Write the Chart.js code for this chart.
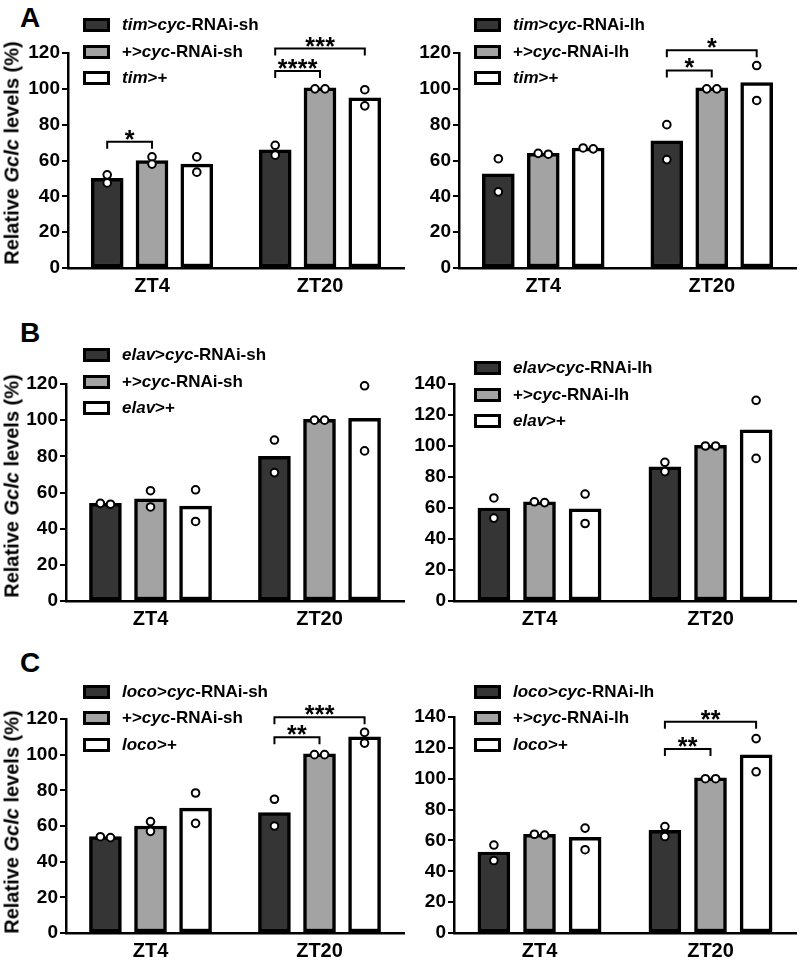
<!DOCTYPE html>
<html lang="en">
<head>
<meta charset="UTF-8">
<title>Relative Gclc levels</title>
<script src="https://cdn.jsdelivr.net/npm/chart.js"></script>
<style>
  body { margin: 0; background: #fff; }
  #fig { position: relative; width: 800px; height: 964px; overflow: hidden; font-family: "Liberation Sans", Arial, sans-serif; color: #000; }
  #fig canvas { position: absolute; }
  .letra { position: absolute; left: 20px; font-size: 28px; font-weight: bold; line-height: 28px; }
  .ytitle { position: absolute; left: 12px; font-size: 20px; font-weight: bold; white-space: nowrap; transform: translate(-50%, -50%) rotate(-90deg); }
  .legenda { position: absolute; font-size: 17px; font-weight: bold; }
  .legenda .row { display: flex; align-items: center; height: 26.5px; white-space: nowrap; }
  .legenda .sw { width: 27px; height: 14px; border: 3px solid #000; box-sizing: border-box; margin-right: 12px; }
</style>
</head>
<body>
<div id="fig">
  <div class="letra" style="top:4px">A</div>
  <div class="letra" style="top:319px">B</div>
  <div class="letra" style="top:649px">C</div>
</div>

<script>
    const grupos = ['ZT4', 'ZT20'];

    // A - tim driver
    const timShSeries = ['tim>cyc-RNAi-sh', '+>cyc-RNAi-sh', 'tim>+'];
    const timShMedias = [[50, 66], [60, 100.5], [58, 95]];
    const timShPontos = [[[52, 47.5], [68.5, 63]], [[62, 58], [100, 100]], [[62, 53.5], [99.5, 90.5]]];
    const timShSig = [[0, 0, 1, 70.5, '*'], [1, 0, 1, 110, '****'], [1, 0, 2, 122.5, '***']];

    const timLhSeries = ['tim>cyc-RNAi-lh', '+>cyc-RNAi-lh', 'tim>+'];
    const timLhMedias = [[52.5, 71], [64, 100.5], [67, 103.5]];
    const timLhPontos = [[[61, 42.5], [80, 60.5]], [[64, 63.5], [100, 100]], [[67, 66.5], [113, 93.5]]];
    const timLhSig = [[1, 0, 1, 110.3, '*'], [1, 0, 2, 121.5, '*']];

    // B - elav driver
    const elavShSeries = ['elav>cyc-RNAi-sh', '+>cyc-RNAi-sh', 'elav>+'];
    const elavShMedias = [[54, 80], [56.5, 100.5], [52.5, 101]];
    const elavShPontos = [[[54, 53.5], [89, 71]], [[61, 52], [100, 100]], [[61.5, 44], [119, 83]]];

    const elavLhSeries = ['elav>cyc-RNAi-lh', '+>cyc-RNAi-lh', 'elav>+'];
    const elavLhMedias = [[60, 86.5], [64, 100.5], [59.5, 110.5]];
    const elavLhPontos = [[[66.5, 53.5], [89.5, 83.5]], [[64, 63.5], [100, 100]], [[69, 50], [129.5, 92]]];

    // C - loco driver
    const locoShSeries = ['loco>cyc-RNAi-sh', '+>cyc-RNAi-sh', 'loco>+'];
    const locoShMedias = [[54, 67.5], [60, 100.5], [70, 110]];
    const locoShPontos = [[[54, 53.5], [75, 60]], [[62.5, 57], [100, 100]], [[78.5, 61.5], [112.5, 106.5]]];
    const locoShSig = [[1, 0, 1, 109.7, '**'], [1, 0, 2, 121, '***']];

    const locoLhSeries = ['loco>cyc-RNAi-lh', '+>cyc-RNAi-lh', 'loco>+'];
    const locoLhMedias = [[52.5, 66.5], [64, 100.5], [62, 115.5]];
    const locoLhPontos = [[[57, 47], [69, 62.5]], [[64, 63.5], [100, 100]], [[68, 54], [126, 104.5]]];
    const locoLhSig = [[1, 0, 1, 119.3, '**'], [1, 0, 2, 137, '**']];

    const cores = ['#353535', '#a3a3a3', '#ffffff'];
    const fonte = '"Liberation Sans", Arial, sans-serif';
    const passo = 0.8 / 3;   // distancia entre barras do mesmo grupo (unidades do eixo)

    const paineis = [
        { left: 0, top: 0, w: 410, h: 300, eixoY: 68, topo: 53, eixoX: 32, dir: 2, max: 120, series: timShSeries, medias: timShMedias, pontos: timShPontos, sig: timShSig, leg: [83, 11.75], titulo: 153 },
        { left: 400, top: 0, w: 402, h: 300, eixoY: 59, topo: 53, eixoX: 32, dir: 1, max: 120, series: timLhSeries, medias: timLhMedias, pontos: timLhPontos, sig: timLhSig, leg: [474, 11.75] },
        { left: 0, top: 300, w: 410, h: 332, eixoY: 66, topo: 84, eixoX: 31, dir: 2, max: 120, series: elavShSeries, medias: elavShMedias, pontos: elavShPontos, sig: [], leg: [83, 341.75], titulo: 486 },
        { left: 400, top: 300, w: 402, h: 332, eixoY: 54, topo: 84, eixoX: 31, dir: 1, max: 140, series: elavLhSeries, medias: elavLhMedias, pontos: elavLhPontos, sig: [], leg: [474, 355] },
        { left: 0, top: 632, w: 410, h: 332, eixoY: 66, topo: 87, eixoX: 31, dir: 2, max: 120, series: locoShSeries, medias: locoShMedias, pontos: locoShPontos, sig: locoShSig, leg: [83, 678.5], titulo: 822 },
        { left: 400, top: 632, w: 402, h: 332, eixoY: 54, topo: 85, eixoX: 31, dir: 1, max: 140, series: locoLhSeries, medias: locoLhMedias, pontos: locoLhPontos, sig: locoLhSig, leg: [474, 678.5] }
    ];

    const fig = document.getElementById('fig');

    function rotulo(txt) {
        return txt.replace(/>/g, '&gt;').replace(/(tim|elav|loco|cyc)/g, '<i>$1</i>');
    }

    function posicao(g, i) {
        return g + (i - 1) * passo;
    }

    function desenhar(p) {
        const cv = document.createElement('canvas');
        cv.width = p.w;
        cv.height = p.h;
        cv.style.left = p.left + 'px';
        cv.style.top = p.top + 'px';
        fig.appendChild(cv);

        const datasets = [];
        p.series.forEach((nome, i) => {
            datasets.push({
                type: 'bar',
                label: nome,
                data: p.medias[i].map((v, g) => ({ x: posicao(g, i), y: v })),
                backgroundColor: cores[i],
                borderColor: '#000',
                borderWidth: 3.5,
                borderSkipped: false,
                grouped: false,
                barThickness: 32,
                order: 2
            });
        });
        p.series.forEach((nome, i) => {
            const pts = [];
            p.pontos[i].forEach((reps, g) => {
                // replicas quase iguais ficam lado a lado
                const juntos = Math.abs(reps[0] - reps[1]) < 2;
                reps.forEach((v, k) => {
                    const desloc = juntos ? (k === 0 ? -0.03 : 0.03) : 0;
                    pts.push({ x: posicao(g, i) + desloc, y: v });
                });
            });
            datasets.push({
                type: 'scatter',
                label: nome + ' (n)',
                data: pts,
                pointRadius: 3.8,
                pointBorderWidth: 2,
                pointBackgroundColor: '#fff',
                pointBorderColor: '#000',
                clip: false,
                order: 1
            });
        });

        const colchetes = {
            id: 'colchetes',
            afterDatasetsDraw(chart) {
                const ctx = chart.ctx;
                const x = chart.scales.x;
                const y = chart.scales.y;
                ctx.save();
                ctx.strokeStyle = '#000';
                ctx.fillStyle = '#000';
                ctx.lineWidth = 2;
                ctx.font = 'bold 25px ' + fonte;
                ctx.textAlign = 'center';
                ctx.textBaseline = 'alphabetic';
                p.sig.forEach(([g, a, b, nivel, txt]) => {
                    const x1 = x.getPixelForValue(posicao(g, a));
                    const x2 = x.getPixelForValue(posicao(g, b));
                    const yy = y.getPixelForValue(nivel);
                    ctx.beginPath();
                    ctx.moveTo(x1, yy + 7);
                    ctx.lineTo(x1, yy);
                    ctx.lineTo(x2, yy);
                    ctx.lineTo(x2, yy + 7);
                    ctx.stroke();
                    const meio = (x1 + x2) / 2;
                    for (let k = 0; k < txt.length; k++) {
                        ctx.fillText(txt[k], meio + (k - (txt.length - 1) / 2) * 10, yy + 6);
                    }
                });
                ctx.restore();
            }
        };

        new Chart(cv, {
            type: 'bar',
            data: { datasets: datasets },
            options: {
                responsive: false,
                animation: false,
                devicePixelRatio: 1,
                layout: { padding: { top: p.topo, right: p.dir, bottom: 0, left: 0 } },
                plugins: { legend: { display: false }, tooltip: { enabled: false } },
                scales: {
                    x: {
                        type: 'linear',
                        offset: false,
                        min: -0.5,
                        max: 1.5,
                        afterBuildTicks: s => { s.ticks = grupos.map((_, g) => ({ value: g })); },
                        grid: { display: true, drawOnChartArea: false, drawTicks: false },
                        border: { color: '#000', width: 2.5 },
                        ticks: {
                            color: '#000',
                            padding: 6,
                            autoSkip: false,
                            maxRotation: 0,
                            font: { family: fonte, size: 20, weight: 'bold' },
                            callback: v => grupos[v]
                        },
                        afterFit: s => { s.height = p.eixoX; }
                    },
                    y: {
                        min: 0,
                        max: p.max,
                        ticks: { stepSize: 20, color: '#000', padding: 2, font: { family: fonte, size: 19, weight: 'bold' } },
                        grid: { drawOnChartArea: false, color: '#000', lineWidth: 2, tickLength: 6 },
                        border: { color: '#000', width: 2.5 },
                        afterFit: s => { s.width = p.eixoY; }
                    }
                }
            },
            plugins: [colchetes]
        });

        // legenda
        const leg = document.createElement('div');
        leg.className = 'legenda';
        leg.style.left = p.leg[0] + 'px';
        leg.style.top = p.leg[1] + 'px';
        leg.innerHTML = p.series.map((nome, i) =>
            `<div class="row"><span class="sw" style="background:${cores[i]}"></span><span>${rotulo(nome)}</span></div>`
        ).join('');
        fig.appendChild(leg);

        if (p.titulo) {
            const t = document.createElement('div');
            t.className = 'ytitle';
            t.style.top = p.titulo + 'px';
            t.innerHTML = 'Relative <i>Gclc</i> levels (%)';
            fig.appendChild(t);
        }
    }

    paineis.forEach(desenhar);
</script>
</body>
</html>
